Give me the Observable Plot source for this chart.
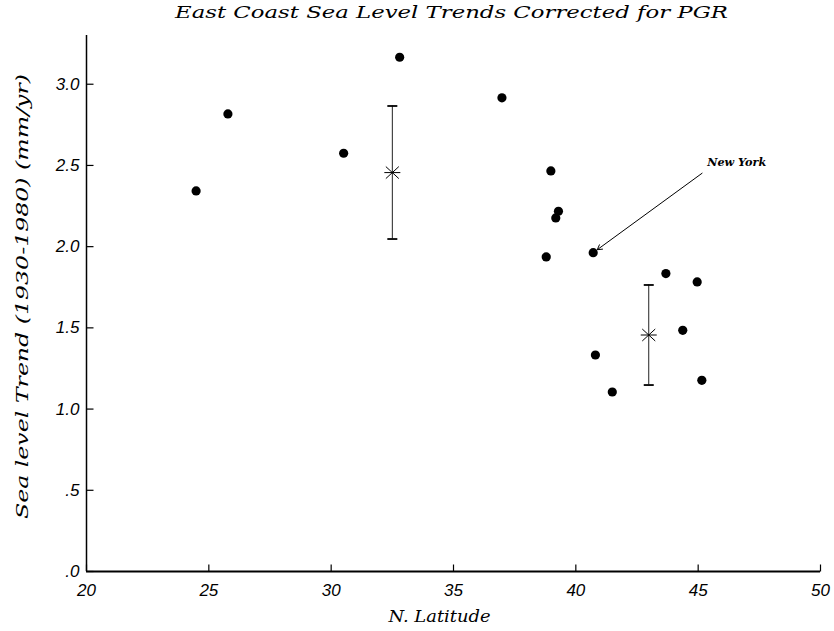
<!DOCTYPE html>
<html><head><meta charset="utf-8">
<script src="https://cdn.jsdelivr.net/npm/d3@7"></script>
<script src="https://cdn.jsdelivr.net/npm/@observablehq/plot@0.6"></script>
<style>body{margin:0;background:#fff} #chart svg{display:block}</style>
</head><body><div id="chart"></div>
<script>
// ---- data ----
const title = "East Coast Sea Level Trends Corrected for PGR";
const xLabel = "N. Latitude";
const yLabel = "Sea level Trend (1930-1980) (mm/yr)";

const latitude = [24.48, 25.78, 30.51, 32.80, 36.98, 38.98, 39.29, 39.18, 38.79, 40.71, 40.80, 41.49, 43.68, 44.37, 44.96, 45.15];
const trend    = [2.343, 2.817, 2.575, 3.166, 2.916, 2.466, 2.218, 2.177, 1.937, 1.963, 1.333, 1.105, 1.834, 1.485, 1.783, 1.177];

const groupLatitude = [32.5, 42.98];
const groupMean = [2.456, 1.456];
const groupLow  = [2.047, 1.148];
const groupHigh = [2.866, 1.764];

const xTicks = [20, 25, 30, 35, 40, 45, 50];
const xTickLabels = ["20", "25", "30", "35", "40", "45", "50"];
const yTicks = [0, 0.5, 1, 1.5, 2, 2.5, 3];
const yTickLabels = [".0", ".5", "1.0", "1.5", "2.0", "2.5", "3.0"];

const annotLabel = ["New York"];
const annotTextLat = [45.37];
const annotTextTrend = [2.517];
const arrowFromLat = [45.16];
const arrowFromTrend = [2.452];
const arrowToLat = [40.71];
const arrowToTrend = [1.963];

// ---- custom symbols ----
const star = {draw(c) {
  c.moveTo(-8, 0); c.lineTo(8, 0);
  c.moveTo(-6.5, -6); c.lineTo(6.5, 6);
  c.moveTo(-6.5, 6); c.lineTo(6.5, -6);
}};
const cap = {draw(c) { c.moveTo(-5, 0); c.lineTo(5, 0); }};
const tickUp = {draw(c) { c.moveTo(0, 0); c.lineTo(0, -7); }};
const tickRight = {draw(c) { c.moveTo(0, 0); c.lineTo(7, 0); }};

const serif = "'DejaVu Serif', serif";
const sans = "'Liberation Sans', Arial, sans-serif";

const svg = Plot.plot({
  width: 834,
  height: 631,
  marginLeft: 86,
  marginRight: 14,
  marginTop: 35,
  marginBottom: 60,
  style: {background: "#fff", color: "#000", overflow: "visible"},
  x: {domain: [20, 50], axis: null},
  y: {domain: [0, 3.3], axis: null},
  marks: [
    Plot.ruleX([20], {stroke: "#000", strokeWidth: 1.5}),
    Plot.ruleY([0], {stroke: "#000", strokeWidth: 2}),
    Plot.dot(xTicks, {x: d => d, y: 0, symbol: tickUp, fill: "none", stroke: "#000", strokeWidth: 1.2}),
    Plot.dot(yTicks, {x: 20, y: d => d, symbol: tickRight, fill: "none", stroke: "#000", strokeWidth: 1.2}),
    Plot.text(xTicks, {x: d => d, y: 0, text: (d, i) => xTickLabels[i], dy: 19, fontSize: 17, fontStyle: "italic", fontFamily: sans, fill: "#000"}),
    Plot.text(yTicks, {x: 20, y: d => d, text: (d, i) => yTickLabels[i], textAnchor: "end", dx: -7, fontSize: 17, fontStyle: "italic", fontFamily: sans, fill: "#000"}),
    // error bars
    Plot.ruleX(groupLatitude, {x: d => d, y1: (d, i) => groupLow[i], y2: (d, i) => groupHigh[i], stroke: "#222", strokeWidth: 1}),
    Plot.dot(groupLatitude, {x: d => d, y: (d, i) => groupLow[i], symbol: cap, fill: "none", stroke: "#000", strokeWidth: 1.8}),
    Plot.dot(groupLatitude, {x: d => d, y: (d, i) => groupHigh[i], symbol: cap, fill: "none", stroke: "#000", strokeWidth: 1.8}),
    Plot.dot(groupLatitude, {x: d => d, y: (d, i) => groupMean[i], symbol: star, fill: "none", stroke: "#000", strokeWidth: 1}),
    // stations
    Plot.dot(latitude, {x: d => d, y: (d, i) => trend[i], r: 4.6, fill: "#000", stroke: "none"}),
    // annotation
    Plot.arrow(annotLabel, {x1: (d, i) => arrowFromLat[i], y1: (d, i) => arrowFromTrend[i], x2: (d, i) => arrowToLat[i], y2: (d, i) => arrowToTrend[i], bend: false, headLength: 8, insetEnd: 5, stroke: "#000", strokeWidth: 1}),
    Plot.text(annotLabel, {x: (d, i) => annotTextLat[i], y: (d, i) => annotTextTrend[i], text: d => d, textAnchor: "start", fontSize: 11, fontStyle: "italic", fontWeight: 600, fontFamily: serif, fill: "#000"}),
    // titles
    Plot.text([title], {frameAnchor: "top", textAnchor: "middle", lineAnchor: "middle", dy: -23, dx: -2, text: d => d, fontSize: 16, fontStyle: "italic", fontFamily: serif, fill: "#000"}),
    Plot.text([xLabel], {frameAnchor: "bottom", textAnchor: "middle", lineAnchor: "middle", dy: 45, dx: -14, text: d => d, fontSize: 16, fontStyle: "italic", fontFamily: serif, fill: "#000"}),
    Plot.text([yLabel], {frameAnchor: "left", textAnchor: "middle", lineAnchor: "middle", rotate: -90, dx: -64, dy: -7, text: d => d, fontSize: 16, fontStyle: "italic", fontFamily: serif, fill: "#000"})
  ]
});

const lengths = [[title, 553], [xLabel, 102], [yLabel, 445], ["New York", 59]];
d3.select(svg).selectAll("text").each(function() {
  const t = this.textContent;
  for (const [s, len] of lengths) {
    if (t === s) d3.select(this).attr("textLength", len).attr("lengthAdjust", "spacingAndGlyphs");
  }
});
document.getElementById("chart").appendChild(svg);
</script>
</body></html>
